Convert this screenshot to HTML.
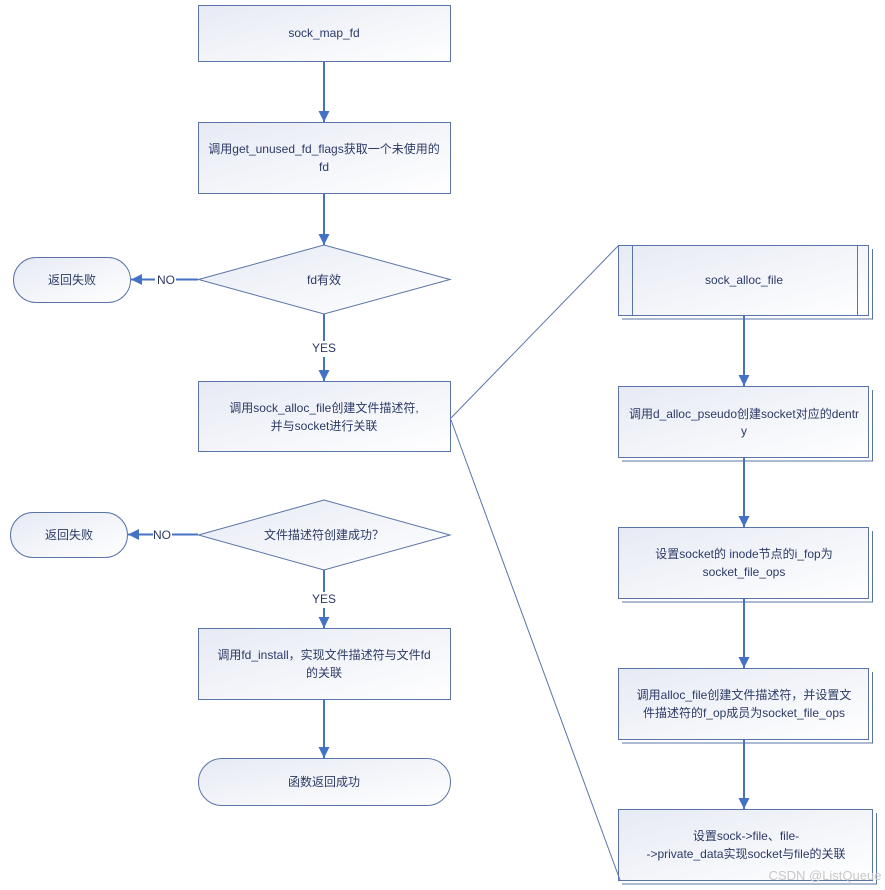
<!DOCTYPE html>
<html><head><meta charset="utf-8"><style>
html,body{margin:0;padding:0;background:#fff;}
svg{display:block;}
text{font-family:"Liberation Sans","Noto Sans CJK SC",sans-serif;font-size:12px;fill:#2c3a66;text-anchor:middle;}
</style></head><body>
<svg width="885" height="890" viewBox="0 0 885 890" xmlns="http://www.w3.org/2000/svg">
<defs>
<linearGradient id="g" x1="0" y1="0" x2="1" y2="1">
<stop offset="0" stop-color="#e6eaf4"/><stop offset="1" stop-color="#ffffff"/>
</linearGradient>
<marker id="a" viewBox="0 0 10 10" refX="10" refY="5" markerWidth="11" markerHeight="11" markerUnits="userSpaceOnUse" orient="auto">
<path d="M0,0 L10,5 L0,10 z" fill="#4472c4"/></marker>
</defs>
<g stroke="#5a74a8" stroke-width="1" fill="url(#g)">
<rect x="198.5" y="5.5" width="252" height="56"/>
<rect x="198.5" y="122.5" width="252" height="71"/>
<polygon points="198.5,279.5 324,245 450,279.5 324,314"/>
<rect x="13.5" y="257.5" width="117" height="45" rx="22.5"/>
<rect x="198.5" y="381.5" width="252" height="70"/>
<polygon points="198.5,535 324,500 450,535 324,570"/>
<rect x="10.5" y="512.5" width="117" height="45" rx="22.5"/>
<rect x="198.5" y="628.5" width="252" height="71"/>
<rect x="198.5" y="758.5" width="252" height="47" rx="23.5"/>
</g>
<g stroke="#5a74a8" stroke-width="1" fill="none">
<path d="M872.5,249 V319 H622"/>
<path d="M872.5,390 V461 H622"/>
<path d="M872.5,531 V602 H622"/>
<path d="M872.5,672 V743 H622"/>
<path d="M876.5,813 V884 H622"/>
</g>
<g stroke="#5a74a8" stroke-width="1" fill="url(#g)">
<rect x="618.5" y="245.5" width="250" height="70"/>
<rect x="618.5" y="386.5" width="250" height="71"/>
<rect x="618.5" y="527.5" width="250" height="71"/>
<rect x="618.5" y="668.5" width="250" height="71"/>
<rect x="618.5" y="809.5" width="254" height="71"/>
</g>
<g stroke="#5a74a8" stroke-width="1">
<line x1="632.5" y1="246" x2="632.5" y2="315"/>
<line x1="857.5" y1="246" x2="857.5" y2="315"/>
<line x1="451" y1="418" x2="618" y2="246"/>
<line x1="451" y1="420" x2="620" y2="880"/>
</g>
<g stroke="#4472c4" stroke-width="2" fill="none" marker-end="url(#a)">
<line x1="324" y1="62" x2="324" y2="122"/>
<line x1="324" y1="194" x2="324" y2="245"/>
<line x1="324" y1="357" x2="324" y2="381"/>
<line x1="324" y1="608" x2="324" y2="628"/>
<line x1="324" y1="700" x2="324" y2="758"/>
<line x1="744" y1="316" x2="744" y2="386"/>
<line x1="744" y1="458" x2="744" y2="527"/>
<line x1="744" y1="599" x2="744" y2="668"/>
<line x1="744" y1="740" x2="744" y2="809"/>
<line x1="155" y1="279.5" x2="131" y2="279.5"/>
<line x1="153" y1="534.5" x2="128" y2="534.5"/>
</g>
<g stroke="#4472c4" stroke-width="2">
<line x1="324" y1="314" x2="324" y2="341"/>
<line x1="324" y1="570" x2="324" y2="592"/>
<line x1="176" y1="279.5" x2="198" y2="279.5"/>
<line x1="172" y1="534.5" x2="198" y2="534.5"/>
</g>
<text x="324" y="37">sock_map_fd</text>
<text x="324" y="153">调用get_unused_fd_flags获取一个未使用的</text>
<text x="324" y="171">fd</text>
<text x="324" y="284">fd有效</text>
<text x="72" y="284">返回失败</text>
<text x="166" y="284">NO</text>
<text x="324" y="352">YES</text>
<text x="324" y="412">调用sock_alloc_file创建文件描述符,</text>
<text x="324" y="430">并与socket进行关联</text>
<text x="324" y="539">文件描述符创建成功？</text>
<text x="69" y="539">返回失败</text>
<text x="162" y="539">NO</text>
<text x="324" y="603">YES</text>
<text x="324" y="659">调用fd_install，实现文件描述符与文件fd</text>
<text x="324" y="677">的关联</text>
<text x="324" y="786">函数返回成功</text>
<text x="744" y="284">sock_alloc_file</text>
<text x="744" y="418">调用d_alloc_pseudo创建socket对应的dentr</text>
<text x="744" y="435">y</text>
<text x="744" y="558">设置socket的 inode节点的i_fop为</text>
<text x="744" y="576">socket_file_ops</text>
<text x="744" y="699">调用alloc_file创建文件描述符，并设置文</text>
<text x="744" y="717">件描述符的f_op成员为socket_file_ops</text>
<text x="746" y="840">设置sock-&gt;file、file-</text>
<text x="746" y="858">-&gt;private_data实现socket与file的关联</text>
<text x="825" y="880" style="fill:#c8c8c8;font-size:13px">CSDN @ListQueue</text>
</svg>
</body></html>
